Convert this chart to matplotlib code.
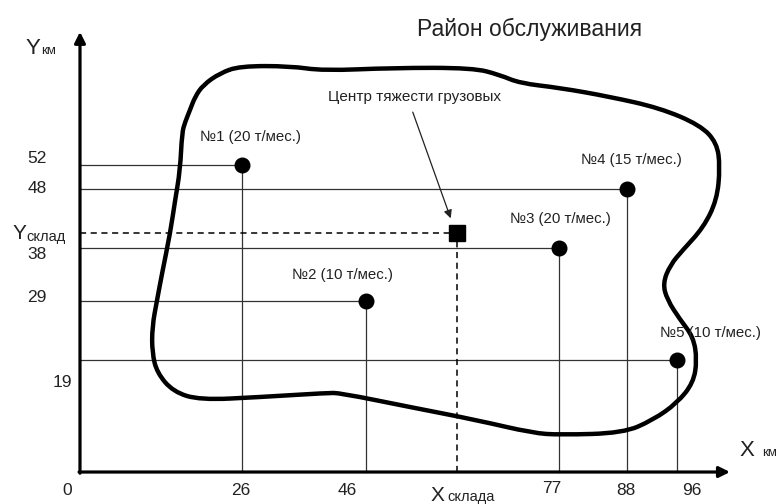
import matplotlib.pyplot as plt
from matplotlib.path import Path
from matplotlib.patches import PathPatch

# --- Consumers (km) and monthly cargo (t/month) ---
names = ["№1", "№2", "№3", "№4", "№5"]
x_km = [26, 46, 77, 88, 96]
y_km = [52, 29, 38, 48, 19]
cargo = [20, 10, 20, 15, 10]

# warehouse (centre of gravity)
x_store = 60.6
y_store = 40.5

# service area outline (km), traced clockwise from the top-left
outline_x = [25.7, 33.8, 39.1, 50.3, 63.2, 67.5, 70.7, 77.2, 85.2, 93.2, 99.7,
             102.4, 102.9, 102.4, 100.2, 96.9, 94.9, 93.7, 94.4, 96.5, 98.6,
             99.2, 98.6, 96.0, 92.1, 87.3, 77.2, 72.8, 63.8, 53.1, 41.8, 39.7,
             28.9, 19.3, 15.0, 12.4, 11.6, 11.6, 12.4, 13.2, 14.5, 15.3,
             16.1, 16.4, 16.9, 17.7, 18.5, 19.8, 22.5]
outline_y = [68.8, 68.8, 68.0, 68.5, 68.5, 67.3, 65.9, 65.1, 63.6, 61.7, 58.8,
             55.8, 51.7, 46.1, 41.4, 37.6, 35.1, 32.0, 29.2, 25.8, 22.9,
             19.0, 15.1, 11.7, 8.8, 6.6, 6.3, 6.6, 8.8, 11.0, 13.4, 13.4,
             12.7, 12.2, 13.6, 16.8, 20.2, 24.6, 29.2, 33.7, 40.5, 46.1,
             51.2, 57.5, 59.3, 61.4, 63.6, 65.6, 67.6]

# tick labels as drawn (label, x, y)
xtick_labels = [("0", -2.1, -3.1), ("26", 25.9, -3.1), ("46", 42.9, -3.1),
                ("77", 75.9, -2.8), ("88", 87.8, -3.1), ("96", 98.4, -3.1)]
ytick_labels = [("52", -6.9, 53.2), ("48", -6.9, 48.1), ("38", -6.9, 36.8),
                ("29", -6.9, 29.5), ("19", -2.9, 15.1)]

# label anchors relative to each point
label_dx = [-6.7, -11.9, -7.9, -7.5, -2.8]
label_dy = [4.8, 4.4, 4.9, 4.9, 4.6]

plt.rcParams['font.family'] = ['Liberation Sans', 'DejaVu Sans']

fig = plt.figure(figsize=(7.77, 5.04), dpi=100)
ax = fig.add_axes([0, 0, 1, 1])
ax.set_xlim(-12.86, 112.06)
ax.set_ylim(-5.42, 80.0)
ax.axis('off')

line_col = '#333333'
txt_col = '#222222'

# projection lines from each point to the axes
for x, y in zip(x_km, y_km):
    ax.plot([0, x], [y, y], color=line_col, lw=0.9, zorder=2)
    ax.plot([x, x], [0, y], color=line_col, lw=0.9, zorder=2)

# warehouse dashed lines
ax.plot([0, x_store], [y_store, y_store], color='black', lw=1.1, ls=(0, (4, 3)), zorder=2)
ax.plot([x_store, x_store], [0, y_store], color='black', lw=1.1, ls=(0, (4, 3)), zorder=2)

# service area: traced points used as control points of a smooth closed path
pts = list(zip(outline_x, outline_y))
n = len(pts)
mids = [((pts[i][0] + pts[(i + 1) % n][0]) / 2, (pts[i][1] + pts[(i + 1) % n][1]) / 2)
        for i in range(n)]
verts = [mids[-1]]
codes = [Path.MOVETO]
for i in range(n):
    verts += [pts[i], mids[i]]
    codes += [Path.CURVE3, Path.CURVE3]
ax.add_patch(PathPatch(Path(verts, codes), facecolor='none', edgecolor='black',
                       lw=3.2, zorder=3))

# points
ax.plot(x_km, y_km, 'o', color='black', markersize=10.5, zorder=5)
ax.plot([x_store], [y_store], 's', color='black', markersize=11, zorder=5)

for nm, x, y, c, dx, dy in zip(names, x_km, y_km, cargo, label_dx, label_dy):
    ax.text(x + dx, y + dy, f"{nm} ({c} т/мес.)", fontsize=10.8, va='center',
            ha='left', color=txt_col, zorder=4)

# axes with arrows
ax.annotate('', xy=(104.5, 0), xytext=(-0.15, 0),
            arrowprops=dict(arrowstyle='-|>', lw=2.3, color='black',
                            mutation_scale=16, shrinkA=0, shrinkB=0), zorder=6)
ax.annotate('', xy=(0, 74.6), xytext=(0, -0.2),
            arrowprops=dict(arrowstyle='-|>', lw=2.3, color='black',
                            mutation_scale=16, shrinkA=0, shrinkB=0), zorder=6)

for t, x, y in xtick_labels:
    ax.text(x, y, t, fontsize=12.5, ha='center', va='center', color=txt_col)
for t, x, y in ytick_labels:
    ax.text(x, y, t, fontsize=12.5, ha='center', va='center', color=txt_col)

# axis names
ax.text(-8.8, 71.7, "Y", fontsize=16, ha='left', va='center', color=txt_col)
ax.text(-6.3, 71.3, "км", fontsize=9.5, ha='left', va='center', color=txt_col)
ax.text(106.1, 3.7, "X", fontsize=16, ha='left', va='center', color=txt_col)
ax.text(109.6, 3.3, "км", fontsize=9.5, ha='left', va='center', color=txt_col)
ax.text(-10.9, 40.4, "Y", fontsize=15, ha='left', va='center', color=txt_col)
ax.text(-8.6, 39.8, "склад", fontsize=10.5, ha='left', va='center', color=txt_col)
ax.text(56.3, -3.9, "X", fontsize=15, ha='left', va='center', color=txt_col)
ax.text(59.0, -4.3, "склада", fontsize=10.5, ha='left', va='center', color=txt_col)

# title
ax.text(72.2, 75.0, "Район обслуживания", fontsize=16.5, ha='center', va='center',
        color=txt_col)

# centre of gravity annotation
ax.text(39.9, 63.6, "Центр тяжести грузовых", fontsize=11, ha='left', va='center',
        color=txt_col)
ax.annotate('', xy=(59.6, 43.0), xytext=(53.5, 61.0),
            arrowprops=dict(arrowstyle='-|>', lw=0.9, color=txt_col,
                            mutation_scale=12, shrinkA=0, shrinkB=0))

fig.savefig("out.png", dpi=100)
